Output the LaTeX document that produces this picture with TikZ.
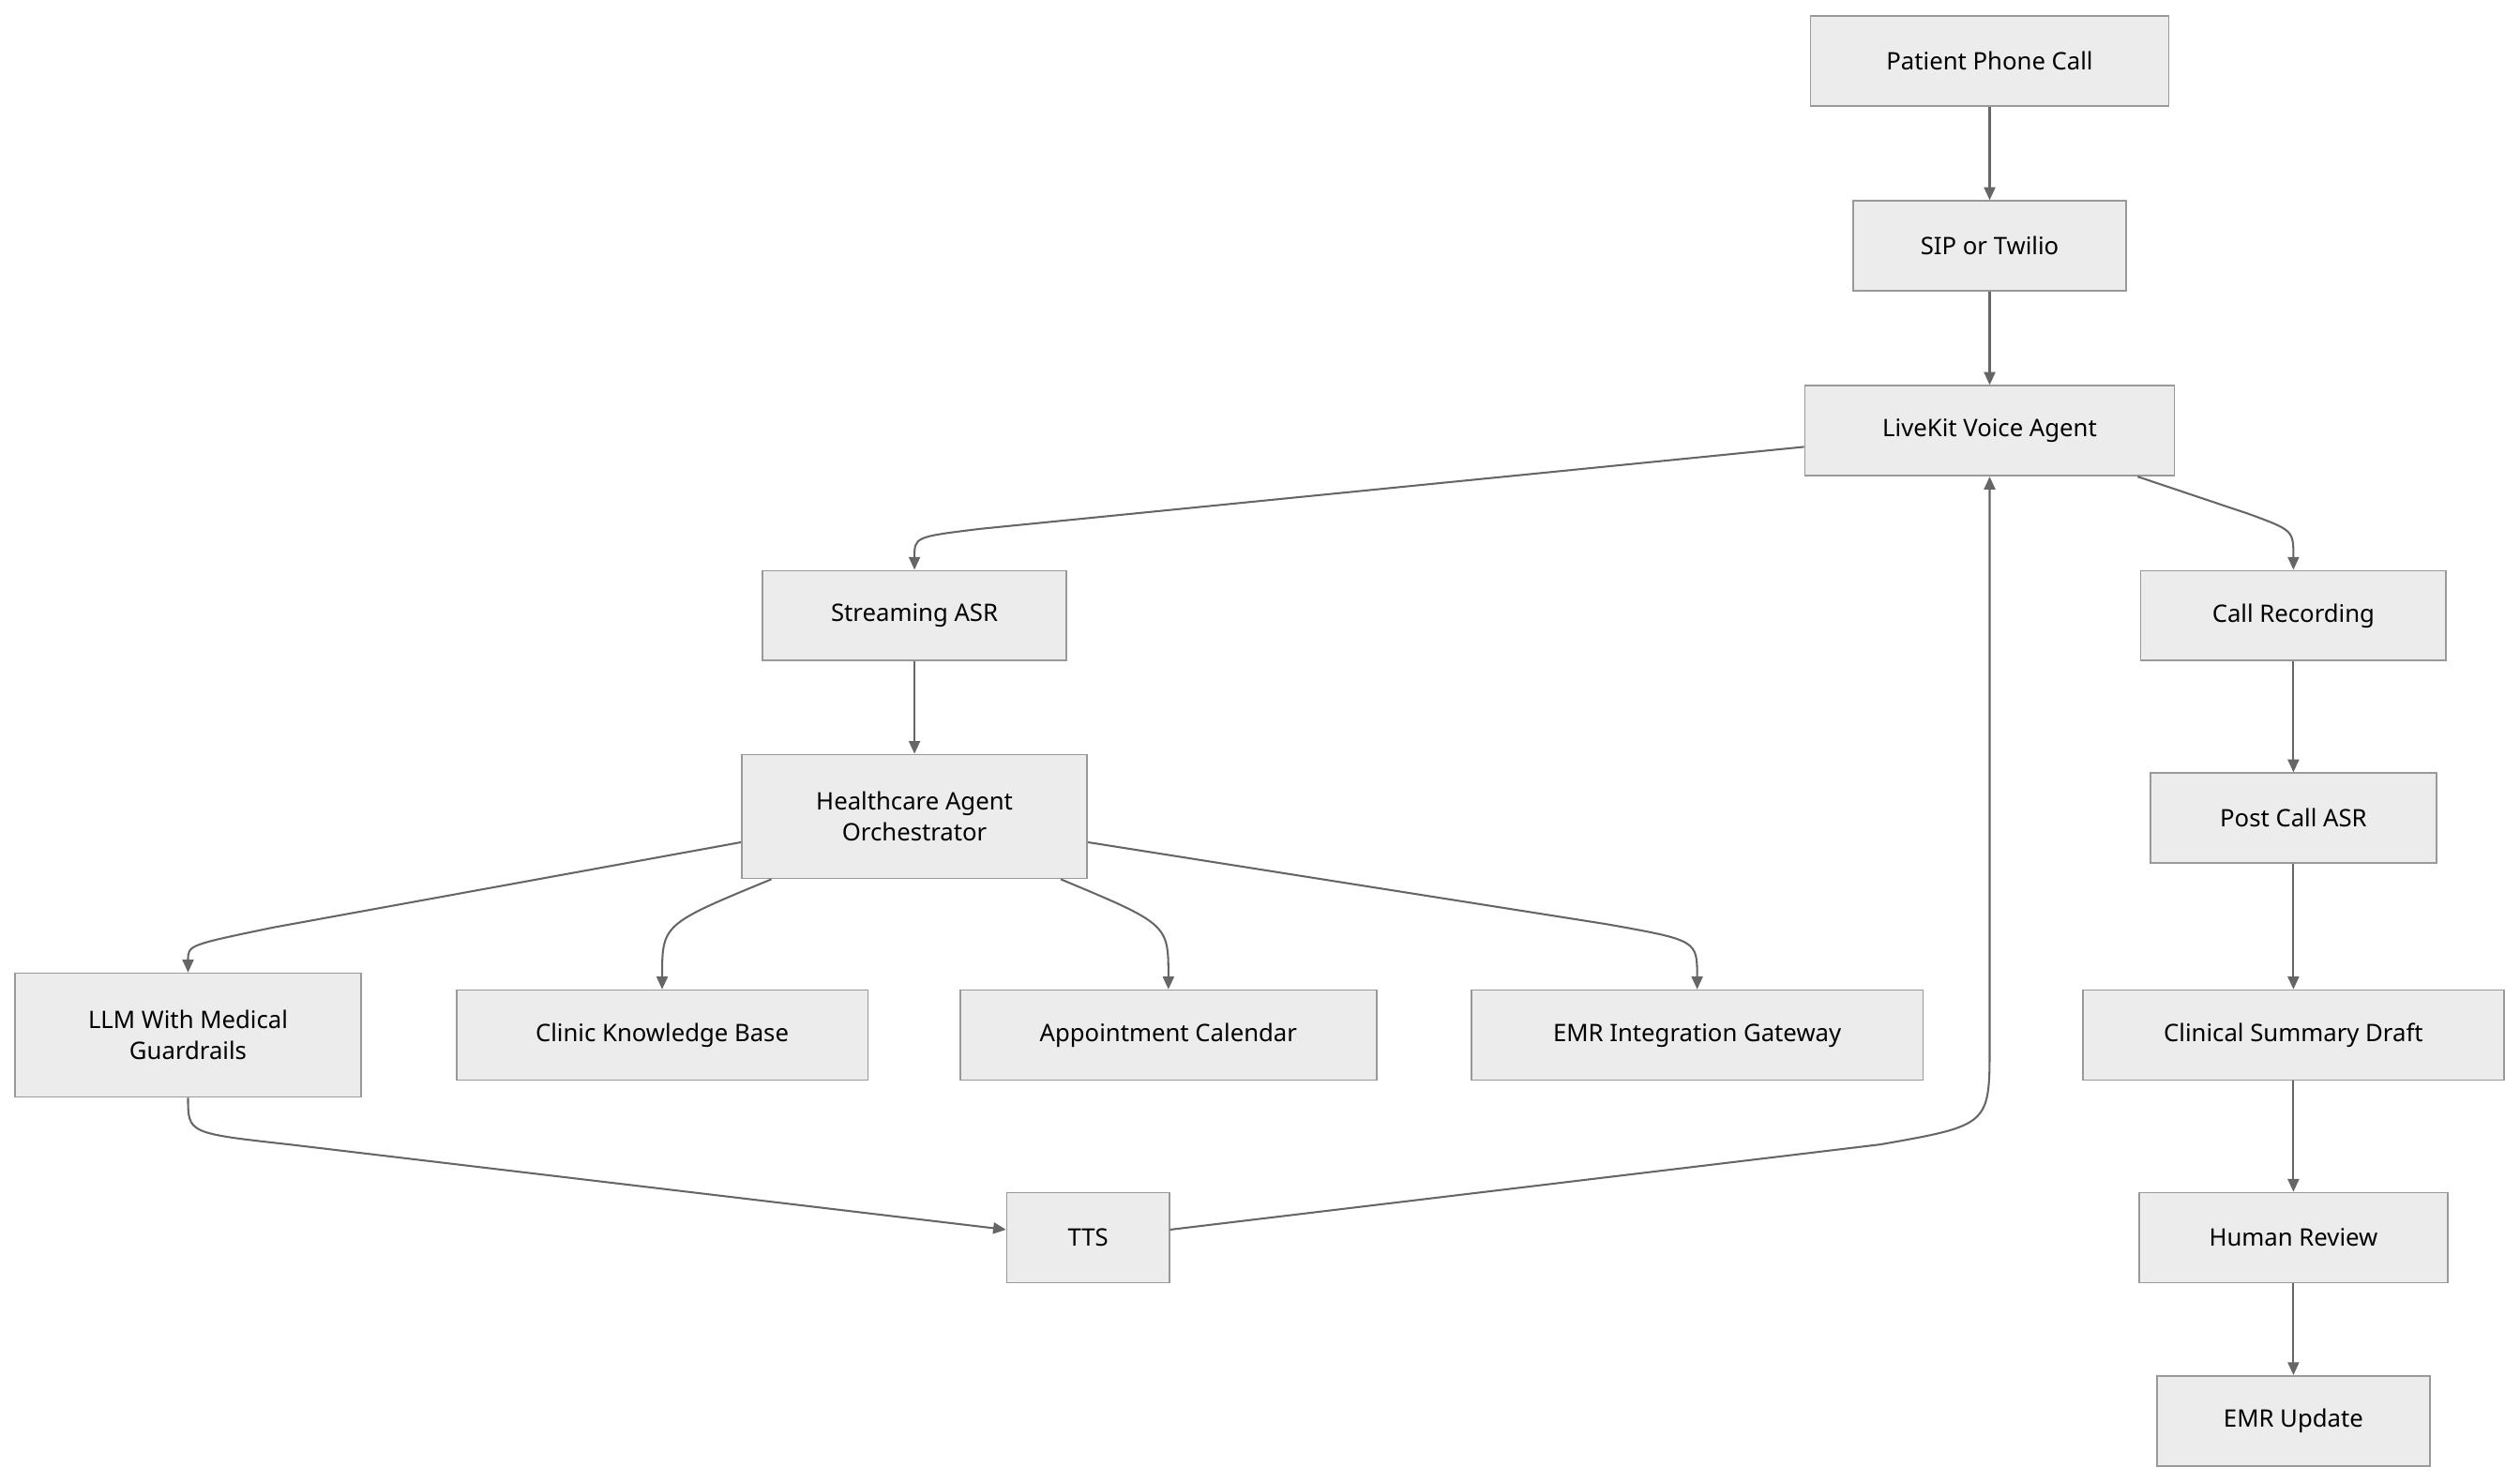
\documentclass[tikz,border=0pt]{standalone}
\usepackage{fontspec}
\setmainfont{Noto Sans}
\usetikzlibrary{arrows.meta}
\definecolor{bx}{HTML}{ECECEC}
\definecolor{bd}{HTML}{999999}
\definecolor{ln}{HTML}{666666}
\begin{document}
\begin{tikzpicture}[x=1pt,y=1pt,
  box/.style={draw=bd,fill=bx,line width=1pt,minimum height=56pt,inner sep=0pt,align=center,font=\fontsize{15}{19}\selectfont},
  e/.style={draw=ln,line width=1.2pt,-{Triangle[length=8pt,width=7pt]}}]
\useasboundingbox (0,0) rectangle (1568,-922);
\node[box,minimum width=223pt] (call) at (1238,-38) {Patient Phone Call};
\node[box,minimum width=170pt] (sip) at (1238,-153) {SIP or Twilio};
\node[box,minimum width=230pt] (live) at (1238,-268) {LiveKit Voice Agent};
\node[box,minimum width=189pt] (asr) at (569,-383) {Streaming ASR};
\node[box,minimum width=190pt] (rec) at (1427,-383) {Call Recording};
\node[box,minimum width=215pt,minimum height=77pt] (orch) at (569,-508) {Healthcare Agent\\Orchestrator};
\node[box,minimum width=178pt] (pasr) at (1427,-509) {Post Call ASR};
\node[box,minimum width=215pt,minimum height=77pt] (llm) at (117,-644) {LLM With Medical\\Guardrails};
\node[box,minimum width=256pt] (kb) at (412,-644) {Clinic Knowledge Base};
\node[box,minimum width=259pt] (cal) at (727,-644) {Appointment Calendar};
\node[box,minimum width=281pt] (emrg) at (1056,-644) {EMR Integration Gateway};
\node[box,minimum width=262pt] (sum) at (1427,-644) {Clinical Summary Draft};
\node[box,minimum width=101pt] (tts) at (677,-770) {TTS};
\node[box,minimum width=192pt] (hr) at (1427,-770) {Human Review};
\node[box,minimum width=170pt] (emru) at (1427,-884) {EMR Update};
\draw[e] (call) -- (sip);
\draw[e] (sip) -- (live);
\draw[e] (asr) -- (orch);
\draw[e] (rec) -- (pasr);
\draw[e] (pasr) -- (sum);
\draw[e] (sum) -- (hr);
\draw[e] (hr) -- (emru);
\draw[e] ([yshift=-10pt]live.west) -- (610,-329) .. controls (569,-334) .. (asr.north);
\draw[e] ([xshift=92pt]live.south) -- (1400,-320) .. controls (1427,-330) .. (rec.north);
\draw[e] ([yshift=-16pt]orch.west) -- (170,-577) .. controls (117,-588) .. (llm.north);
\draw[e] ([xshift=-89pt]orch.south) .. controls (412,-575) .. (kb.north);
\draw[e] ([xshift=91pt]orch.south) .. controls (727,-575) .. (cal.north);
\draw[e] ([yshift=-16pt]orch.east) -- (1000,-575) .. controls (1056,-585) .. (emrg.north);
\draw[e] (llm.south) .. controls (117,-705) .. (180,-712) -- ([yshift=5pt]tts.west);
\draw[e] ([yshift=5pt]tts.east) -- (1170,-712) .. controls (1238,-700) .. (1238,-650) -- (live.south);
\end{tikzpicture}
\end{document}
